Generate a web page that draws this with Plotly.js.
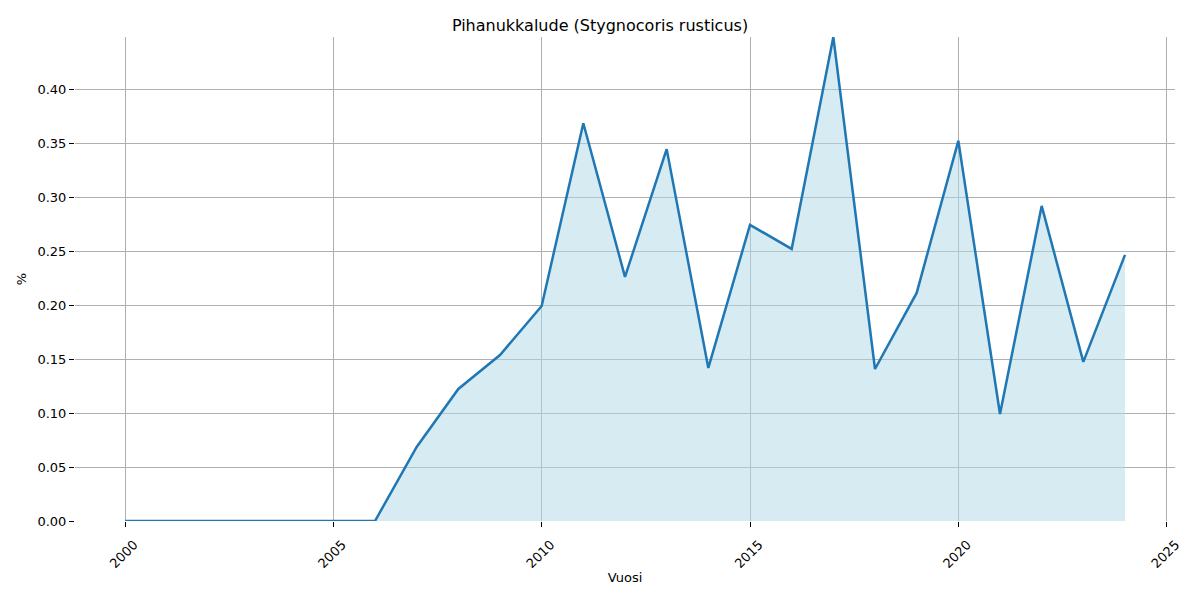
<!DOCTYPE html>
<html>
<head>
<meta charset="utf-8">
<script src="https://cdn.plot.ly/plotly-3.0.1.min.js"></script>
<style>html,body{margin:0;padding:0;background:#fff}#chart{width:1200px;height:600px}</style>
</head>
<body>
<div id="chart"></div>
<script>
const years = [2000,2001,2002,2003,2004,2005,2006,2007,2008,2009,2010,2011,2012,2013,2014,2015,2016,2017,2018,2019,2020,2021,2022,2023,2024];
const values = [0,0,0,0,0,0,0,0.0687,0.1225,0.154,0.1995,0.369,0.2265,0.345,0.142,0.2747,0.2524,0.449,0.141,0.2116,0.3527,0.0993,0.2923,0.1476,0.2469];
const xTicks = [2000,2005,2010,2015,2020,2025];
const yTicks = [0,0.05,0.10,0.15,0.20,0.25,0.30,0.35,0.40];

const font = {family: 'DejaVu Sans, sans-serif', size: 13, color: '#000'};
const trace = {
  x: years, y: values, type: 'scatter', mode: 'lines',
  line: {color: '#1f77b4', width: 2.5},
  fill: 'tozeroy', fillcolor: 'rgba(173,216,230,0.5)',
  hoverinfo: 'skip'
};
const layout = {
  width: 1200, height: 600,
  margin: {l: 75, r: 25, t: 37, b: 79},
  paper_bgcolor: '#fff', plot_bgcolor: '#fff',
  font: font,
  showlegend: false,
  title: {text: 'Pihanukkalude (Stygnocoris rusticus)', font: {family: 'DejaVu Sans, sans-serif', size: 16, color: '#000'}, x: 0.5, xanchor: 'center', y: 0.958, yanchor: 'middle'},
  xaxis: {
    range: [1998.8, 2025.2], tickvals: xTicks, ticktext: xTicks.map(String),
    tickangle: -45, showgrid: true, gridcolor: '#b0b0b0', gridwidth: 1,
    zeroline: false, showline: false, ticks: 'outside', ticklen: 5, tickcolor: '#000',
    tickfont: font, ticklabelshift: 9, ticklabelstandoff: 5,
    title: {text: 'Vuosi', font: font, standoff: 2}
  },
  yaxis: {
    range: [0, 0.449], tickvals: yTicks, ticktext: yTicks.map(v => v.toFixed(2)),
    showgrid: true, gridcolor: '#b0b0b0', gridwidth: 1,
    zeroline: false, showline: false, ticks: 'outside', ticklen: 5, tickcolor: '#000',
    tickfont: font,
    title: {text: '%', font: font, standoff: 7}
  }
};
Plotly.newPlot('chart', [trace], layout, {displayModeBar: false, staticPlot: true});
</script>
</body>
</html>
